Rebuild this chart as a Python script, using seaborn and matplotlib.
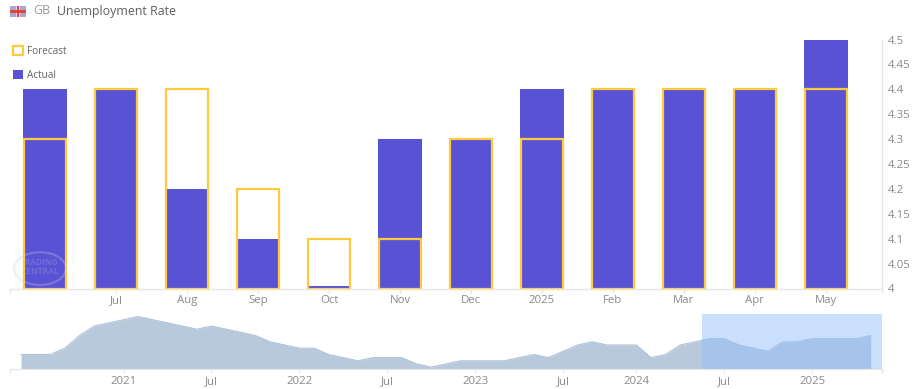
import matplotlib
matplotlib.use("Agg")
import matplotlib.pyplot as plt
import numpy as np
import pandas as pd
import seaborn as sns
from matplotlib.patches import Ellipse, Rectangle

months = ["Jun", "Jul", "Aug", "Sep", "Oct", "Nov", "Dec", "2025", "Feb", "Mar", "Apr", "May"]
actual = [4.4, 4.4, 4.2, 4.1, 4.005, 4.3, 4.3, 4.4, 4.4, 4.4, 4.4, 4.5]
forecast = [4.3, 4.4, 4.4, 4.2, 4.1, 4.1, 4.3, 4.3, 4.4, 4.4, 4.4, 4.4]
y_ticks = [4, 4.05, 4.1, 4.15, 4.2, 4.25, 4.3, 4.35, 4.4, 4.45, 4.5]

# overview strip, one value per release
history = [4.0, 4.0, 4.0, 4.2, 4.6, 4.9, 5.0, 5.1, 5.2, 5.1,
           5.0, 4.9, 4.8, 4.9, 4.8, 4.7, 4.6, 4.4, 4.3, 4.2,
           4.2, 4.0, 3.9, 3.8, 3.9, 3.9, 3.9, 3.7, 3.6, 3.7,
           3.8, 3.8, 3.8, 3.8, 3.9, 4.0, 3.9, 4.1, 4.3, 4.4,
           4.3, 4.3, 4.3, 3.9, 4.0, 4.3, 4.4, 4.5, 4.5, 4.3,
           4.2, 4.1, 4.4, 4.4, 4.5, 4.5, 4.5, 4.5, 4.6]
history_ticks = [7, 13, 19, 25, 31, 37, 42, 48, 54]
history_labels = ["2021", "Jul", "2022", "Jul", "2023", "Jul", "2024", "Jul", "2025"]

BASE = 4
W, H = 914, 389
GREY = "#e6e6e6"
TXT = "#8a8a8a"

sns.set_style("white")
plt.rcParams["font.family"] = ["Open Sans", "DejaVu Sans"]
fig = plt.figure(figsize=(W / 100, H / 100), dpi=100)
ax = fig.add_axes([10 / W, 1 - 288.5 / H, 872 / W, 249 / H])
ax2 = fig.add_axes([10 / W, 1 - 369 / H, 872 / W, 55 / H])

df = pd.DataFrame({"month": months, "actual": np.array(actual) - BASE, "forecast": np.array(forecast) - BASE})
sns.barplot(df, x="month", y="actual", color="#5a52d5", saturation=1, width=0.62, bottom=BASE,
            linewidth=0, label="Actual", ax=ax)
sns.barplot(df, x="month", y="forecast", fill=False, color="#ffcb3d", saturation=1, width=0.595, bottom=BASE,
            linewidth=1.6, label="Forecast", ax=ax)
handles, labels = ax.get_legend_handles_labels()
ax.get_legend().remove()
ax.set_xlim(-0.493, 11.79)
ax.set_ylim(4, 4.5)
ax.set_xlabel("")
ax.set_ylabel("")
ax.yaxis.tick_right()
ax.set_yticks(y_ticks)
ax.set_yticklabels(["%g" % v for v in y_ticks])
ax.set_xticks([-0.493] + list(range(1, 12)) + [11.79])
ax.set_xticklabels([""] + months[1:] + [""])
ax.tick_params(axis="both", length=3, width=1, color=GREY, labelcolor=TXT, labelsize=8.2, pad=1, left=False, right=True, bottom=True)
ax.tick_params(axis="x", pad=2)
sns.despine(ax=ax, left=True, top=True, right=False)
for side in ["bottom", "right"]:
    ax.spines[side].set_color(GREY)
    ax.spines[side].set_linewidth(1)
for p in ax.patches:
    p.set_clip_on(False)

order = [labels.index("Forecast"), labels.index("Actual")]
fig.legend([handles[i] for i in order], [labels[i] for i in order], loc="upper left",
           bbox_to_anchor=(10 / W, 1 - 43 / H), frameon=False, fontsize=7.2, labelcolor="#666666",
           handlelength=0.95, handleheight=0.95, handletextpad=0.45, labelspacing=1.3, borderpad=0.3, borderaxespad=0)

# watermark
ax.add_patch(Ellipse((-0.07, 4.04), 0.73, 0.066, fill=False, ec="#c9c9d6", lw=1.6, alpha=0.3, zorder=5))
ax.text(-0.07, 4.043, "TRADING\nCENTRAL", color="#c9c9d6", alpha=0.22, fontsize=6, ha="center", va="center",
        linespacing=1.0, fontweight="bold", zorder=5)

# overview
xs = np.arange(len(history))
sns.lineplot(x=xs, y=history, color="#b0c2d8", linewidth=0.8, ax=ax2)
ax2.fill_between(xs, 3.54, history, color="#b9c9dc", lw=0, zorder=1)
ax2.axvspan(46.46, 58.77, color="#94c0fa", alpha=0.5, lw=0, zorder=2)
ax2.set_xlim(-0.75, 58.77)
ax2.set_ylim(3.54, 5.28)
ax2.set_yticks([])
ax2.set_xticks([-0.75] + history_ticks + [58.77])
ax2.set_xticklabels([""] + history_labels + [""])
ax2.tick_params(axis="x", length=3, width=1, color=GREY, labelcolor=TXT, labelsize=8.2, pad=2, bottom=True)
sns.despine(ax=ax2, left=True, top=True, right=True)
ax2.spines["bottom"].set_color(GREY)

# title and small flag
fig.text(33 / W, 1 - 11 / H, "GB", color="#9a9a9a", fontsize=9, va="center")
fig.text(57 / W, 1 - 11 / H, "Unemployment Rate", color="#5f5f5f", fontsize=8.9, va="center")
fx = lambda px: px / W
fy = lambda py: 1 - py / H
fig.add_artist(Rectangle((fx(10), fy(17)), 16 / W, 11 / H, color="#dcdcea", lw=0, transform=fig.transFigure))
for cx, cy in [(10, 6), (20, 6), (10, 13), (20, 13)]:
    fig.add_artist(Rectangle((fx(cx), fy(cy + 4)), 6 / W, 4 / H, color="#a9a9cf", lw=0, transform=fig.transFigure))
fig.add_artist(Rectangle((fx(10), fy(12.7)), 16 / W, 2.4 / H, color="#e4413f", lw=0, transform=fig.transFigure))
fig.add_artist(Rectangle((fx(16.8), fy(17)), 2.4 / W, 11 / H, color="#e4413f", lw=0, transform=fig.transFigure))

fig.savefig("out.png", dpi=100)
